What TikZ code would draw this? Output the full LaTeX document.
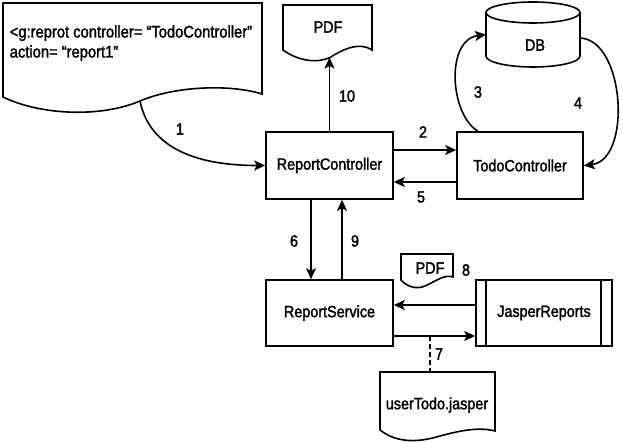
\documentclass[tikz,border=0pt]{standalone}
\usepackage{fontspec}
\setmainfont[FakeStretch=0.88,FakeBold=1.8]{Liberation Sans}
\usetikzlibrary{arrows.meta,calc}
\begin{document}
\begin{tikzpicture}[x=1bp,y=-1bp,line width=1.6bp,
  txt/.style={font=\fontsize{16.4}{18}\selectfont, inner sep=0pt},
  box/.style={draw, txt, minimum width=127bp, minimum height=67bp},
  arr/.style={-{Stealth[length=11bp,width=10bp,inset=2.5bp]}},
  lbl/.style={txt}]
\useasboundingbox (0,0) rectangle (623,442);

% request document
\draw (3,97) -- (3,3) -- (262,3) -- (262,94)
  .. controls (230,84) and (175,86) .. (140,101)
  .. controls (100,118) and (40,115) .. (3,97) -- cycle;
\node[txt, font=\fontsize{16.8}{20}\selectfont, anchor=base west] (req1) at (9,37.5) {<g:reprot controller= “TodoController”};
\node[txt, font=\fontsize{16.8}{20}\selectfont, anchor=base west] (req2) at (9,57.5) {action= “report1”};
\coordinate (a1) at (140,101);

% PDF document (top)
\draw (283,50) -- (283,5) -- (372,5) -- (372,50)
  .. controls (360,42) and (345,48) .. (330,57.5)
  .. controls (318,63) and (300,62) .. (283,50) -- cycle;
\node[txt] (pdf1) at (328,27) {PDF};
\coordinate (pdftip) at (329.5,57.5);

% DB cylinder
\draw (486,12.5) -- (486,56)
  .. controls (486,62.1) and (507,67) .. (533,67)
  .. controls (559,67) and (580,62.1) .. (580,56) -- (580,12.5);
\draw (533,12.5) ellipse [x radius=47, y radius=10.5];
\node[txt] (db) at (535,45) {DB};
\coordinate (dbl) at (486,34.5);
\coordinate (dbr) at (580,38);

% boxes
\node[box] (rc) at (329.5,165.5) {ReportController};
\node[box, minimum width=126bp] (tc) at (520,165.5) {TodoController};
\node[box, minimum height=66bp] (rs) at (329.5,313) {ReportService};
\node[box, minimum width=136bp, minimum height=66bp] (js) at (544,313) {JasperReports};
\draw ([xshift=11bp]js.north west) -- ([xshift=11bp]js.south west);
\draw ([xshift=-12bp]js.north east) -- ([xshift=-12bp]js.south east);

% small PDF document
\draw (401,280) -- (401,254) -- (453,254) -- (453,277)
  .. controls (445,274) and (436,281) .. (425,286)
  .. controls (416,290) and (406,286) .. (401,280) -- cycle;
\node[txt] (pdf2) at (430,268) {PDF};

% userTodo.jasper document
\draw (380,430) -- (380,372) -- (495,372) -- (495,431)
  .. controls (480,427) and (462,430) .. (440,436)
  .. controls (420,442) and (398,444) .. (380,430) -- cycle;
\node[txt] (ut) at (437,405) {userTodo.jasper};
\coordinate (utn) at (430,372);

% connectors
\draw[arr] (a1) .. controls (150,150) and (200,165.5) .. (rc.west);
\draw[arr] (rc.north) -- (pdftip);
\draw[arr] ([yshift=15.5bp]rc.east) -- ([yshift=15.5bp]tc.west);
\draw[arr] ([yshift=-16.5bp]tc.west) -- ([yshift=-16.5bp]rc.east);
\draw[arr] ([xshift=-42bp]tc.north) .. controls (450,115) and (445,40) .. (dbl);
\draw[arr] (dbr) .. controls (625,40) and (632,160) .. (tc.east);
\draw[arr] ([xshift=-18.5bp]rc.south) -- ([xshift=-18.5bp]rs.north);
\draw[arr] ([xshift=12.5bp]rs.north) -- ([xshift=12.5bp]rc.south);
\draw[arr] ([yshift=8bp]js.west) -- ([yshift=8bp]rs.east);
\draw[arr] ([yshift=-23bp]rs.east) -- ([yshift=-23bp]js.west);
\coordinate (j7) at (430,336);
\draw[dash pattern=on 5bp off 3bp] (j7) -- (utn);

% labels
\node[lbl] (l1) at (180,129) {1};
\node[lbl] (l2) at (423,132) {2};
\node[lbl] (l3) at (478,92) {3};
\node[lbl] (l4) at (578,103) {4};
\node[lbl] (l5) at (421,197) {5};
\node[lbl] (l6) at (294,241) {6};
\node[lbl] (l7) at (439,354) {7};
\node[lbl] (l8) at (466,270) {8};
\node[lbl] (l9) at (355,241) {9};
\node[lbl] (l10) at (347,96) {10};
\end{tikzpicture}
\end{document}
